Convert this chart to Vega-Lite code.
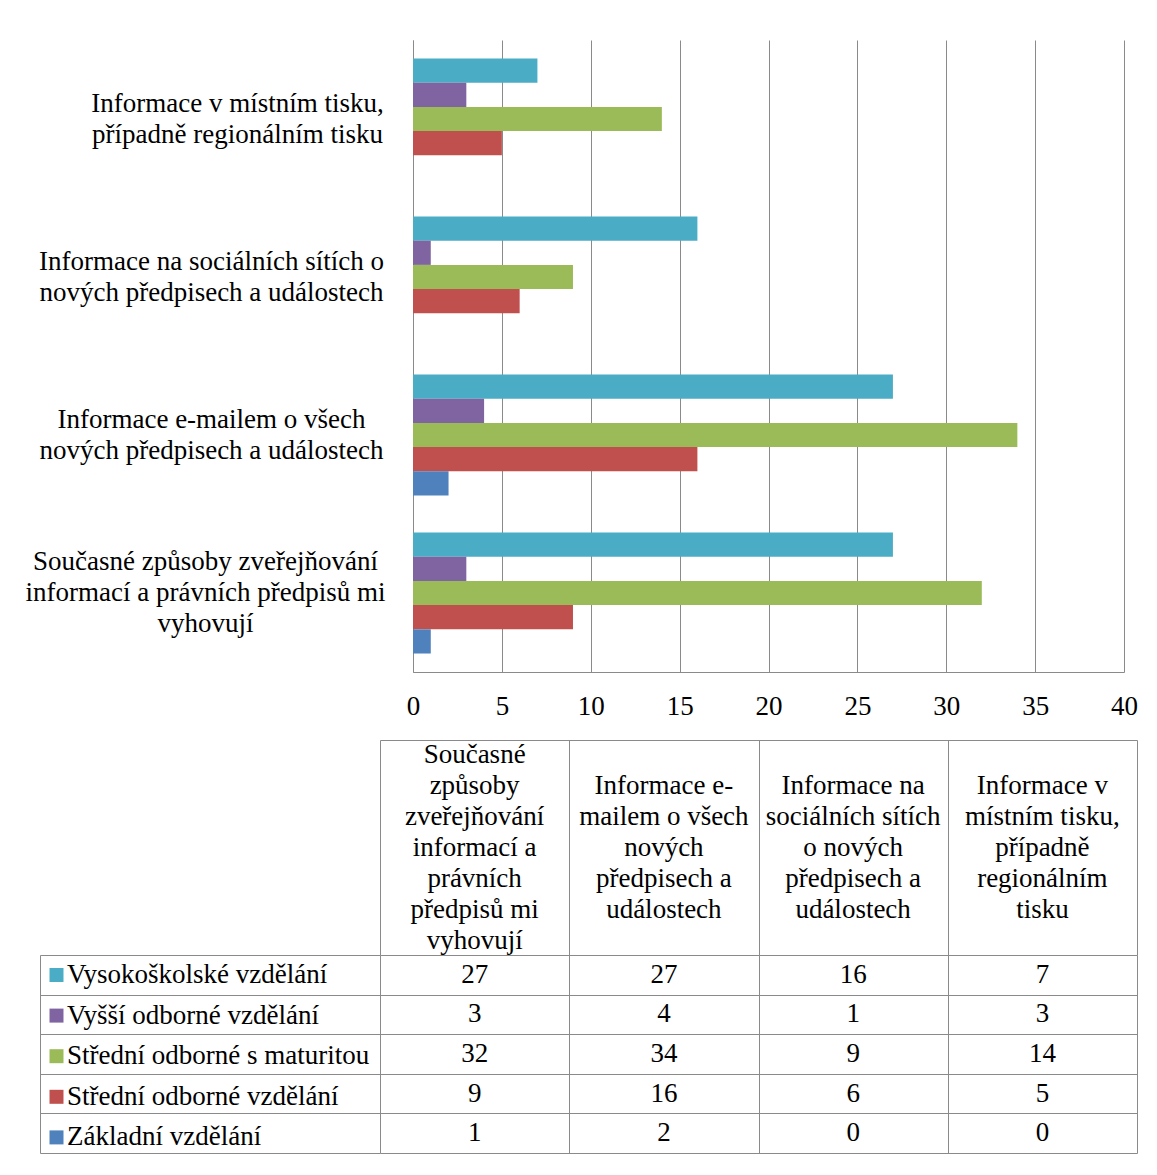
{
  "$schema": "https://vega.github.io/schema/vega-lite/v6.json",
  "padding": {"left": 13, "top": 40, "right": 0, "bottom": 8},
  "background": "white",
  "config": {
    "view": {"stroke": null},
    "font": "'Liberation Serif', serif",
    "text": {"font": "'Liberation Serif', serif"},
    "axis": {
      "labelFont": "'Liberation Serif', serif",
      "labelFontSize": 27,
      "labelColor": "black",
      "domainColor": "#8a8a8a",
      "gridColor": "#8a8a8a",
      "gridOpacity": 1,
      "domainWidth": 1,
      "gridWidth": 1,
      "title": null
    },
    "legend": {"labelFont": "'Liberation Serif', serif"}
  },
  "datasets": {
    "vals": [
      {"cat": "Současné způsoby zveřejňování\ninformací a právních předpisů mi\nvyhovují", "series": "Vysokoškolské vzdělání", "value": 27},
      {"cat": "Současné způsoby zveřejňování\ninformací a právních předpisů mi\nvyhovují", "series": "Vyšší odborné vzdělání", "value": 3},
      {"cat": "Současné způsoby zveřejňování\ninformací a právních předpisů mi\nvyhovují", "series": "Střední odborné s maturitou", "value": 32},
      {"cat": "Současné způsoby zveřejňování\ninformací a právních předpisů mi\nvyhovují", "series": "Střední odborné vzdělání", "value": 9},
      {"cat": "Současné způsoby zveřejňování\ninformací a právních předpisů mi\nvyhovují", "series": "Základní vzdělání", "value": 1},
      {"cat": "Informace e-mailem o všech\nnových předpisech a událostech", "series": "Vysokoškolské vzdělání", "value": 27},
      {"cat": "Informace e-mailem o všech\nnových předpisech a událostech", "series": "Vyšší odborné vzdělání", "value": 4},
      {"cat": "Informace e-mailem o všech\nnových předpisech a událostech", "series": "Střední odborné s maturitou", "value": 34},
      {"cat": "Informace e-mailem o všech\nnových předpisech a událostech", "series": "Střední odborné vzdělání", "value": 16},
      {"cat": "Informace e-mailem o všech\nnových předpisech a událostech", "series": "Základní vzdělání", "value": 2},
      {"cat": "Informace na sociálních sítích o\nnových předpisech a událostech", "series": "Vysokoškolské vzdělání", "value": 16},
      {"cat": "Informace na sociálních sítích o\nnových předpisech a událostech", "series": "Vyšší odborné vzdělání", "value": 1},
      {"cat": "Informace na sociálních sítích o\nnových předpisech a událostech", "series": "Střední odborné s maturitou", "value": 9},
      {"cat": "Informace na sociálních sítích o\nnových předpisech a událostech", "series": "Střední odborné vzdělání", "value": 6},
      {"cat": "Informace na sociálních sítích o\nnových předpisech a událostech", "series": "Základní vzdělání", "value": 0},
      {"cat": "Informace v místním tisku,\npřípadně regionálním tisku", "series": "Vysokoškolské vzdělání", "value": 7},
      {"cat": "Informace v místním tisku,\npřípadně regionálním tisku", "series": "Vyšší odborné vzdělání", "value": 3},
      {"cat": "Informace v místním tisku,\npřípadně regionálním tisku", "series": "Střední odborné s maturitou", "value": 14},
      {"cat": "Informace v místním tisku,\npřípadně regionálním tisku", "series": "Střední odborné vzdělání", "value": 5},
      {"cat": "Informace v místním tisku,\npřípadně regionálním tisku", "series": "Základní vzdělání", "value": 0}
    ],
    "cols": [
      {"cat": "Současné způsoby zveřejňování\ninformací a právních předpisů mi\nvyhovují", "head": "Současné\nzpůsoby\nzveřejňování\ninformací a\nprávních\npředpisů mi\nvyhovují"},
      {"cat": "Informace e-mailem o všech\nnových předpisech a událostech", "head": "\nInformace e-\nmailem o všech\nnových\npředpisech a\nudálostech\n"},
      {"cat": "Informace na sociálních sítích o\nnových předpisech a událostech", "head": "\nInformace na\nsociálních sítích\no nových\npředpisech a\nudálostech\n"},
      {"cat": "Informace v místním tisku,\npřípadně regionálním tisku", "head": "\nInformace v\nmístním tisku,\npřípadně\nregionálním\ntisku\n"}
    ],
    "none": []
  },
  "resolve": {"scale": {"color": "independent"}},
  "spacing": 18,
  "vconcat": [
    {
      "spacing": -28,
      "hconcat": [
        {
          "width": 1,
          "height": 1,
          "data": {"name": "none"},
          "mark": {"type": "point", "opacity": 0},
          "encoding": {}
        },
        {
          "width": 711,
          "height": 632,
          "data": {"name": "vals"},
          "mark": {"type": "bar"},
          "encoding": {
            "y": {
              "field": "cat",
              "type": "nominal",
              "sort": [
                "Informace v místním tisku,\npřípadně regionálním tisku",
                "Informace na sociálních sítích o\nnových předpisech a událostech",
                "Informace e-mailem o všech\nnových předpisech a událostech",
                "Současné způsoby zveřejňování\ninformací a právních předpisů mi\nvyhovují"
              ],
              "scale": {"paddingInner": 0.234, "paddingOuter": 0.117},
              "axis": {
                "ticks": false,
                "grid": false,
                "domain": true,
                "labelExpr": "split(datum.label, '\\n')",
                "labelAlign": "center",
                "labelPadding": {"condition": [
                  {"test": "indexof(datum.value, 'vyhovují') >= 0", "value": 208},
                  {"test": "indexof(datum.value, 'místním') >= 0", "value": 176}
                ], "value": 202},
                "labelLineHeight": 31,
                "labelLimit": 600,
                "labelOffset": {"condition": {"test": "indexof(datum.value, 'vyhovují') >= 0", "value": -31}, "value": -15.5},
                "minExtent": 400
              }
            },
            "x": {
              "field": "value",
              "type": "quantitative",
              "scale": {"domain": [0, 40], "nice": false},
              "axis": {
                "values": [0, 5, 10, 15, 20, 25, 30, 35, 40],
                "grid": true,
                "ticks": false,
                "domain": true,
                "labelPadding": 21,
                "labelFlush": false,
                "minExtent": 50
              }
            },
            "yOffset": {
              "field": "series",
              "type": "nominal",
              "sort": ["Vysokoškolské vzdělání", "Vyšší odborné vzdělání", "Střední odborné s maturitou", "Střední odborné vzdělání", "Základní vzdělání"],
              "scale": {"paddingInner": 0, "paddingOuter": 0}
            },
            "color": {
              "field": "series",
              "type": "nominal",
              "scale": {
                "domain": ["Vysokoškolské vzdělání", "Vyšší odborné vzdělání", "Střední odborné s maturitou", "Střední odborné vzdělání", "Základní vzdělání"],
                "range": ["#4BACC6", "#8064A2", "#9BBB59", "#C0504D", "#4F81BD"]
              },
              "legend": null
            }
          }
        }
      ]
    },
    {
      "spacing": 0,
      "resolve": {"scale": {"color": "independent"}},
      "vconcat": [
        {
          "spacing": 0,
          "hconcat": [
            {
              "width": 340,
              "height": 215,
              "data": {"name": "none"},
              "mark": {"type": "point", "opacity": 0},
              "encoding": {}
            },
            {
              "width": 757,
              "height": 215,
              "data": {"name": "cols"},
              "mark": {"type": "text", "lineBreak": "\n", "fontSize": 27, "lineHeight": 31, "color": "black", "baseline": "middle", "dy": -93},
              "encoding": {
                "x": {
                  "field": "cat",
                  "type": "nominal",
                  "sort": [
                    "Současné způsoby zveřejňování\ninformací a právních předpisů mi\nvyhovují",
                    "Informace e-mailem o všech\nnových předpisech a událostech",
                    "Informace na sociálních sítích o\nnových předpisech a událostech",
                    "Informace v místním tisku,\npřípadně regionálním tisku"
                  ],
                  "scale": {"type": "band", "paddingInner": 0, "paddingOuter": 0},
                  "axis": {"orient": "top", "labels": false, "ticks": false, "domain": true, "grid": true, "tickBand": "extent"}
                },
                "text": {"field": "head"}
              }
            }
          ]
        },
        {
          "spacing": 0,
          "resolve": {"scale": {"color": "independent"}},
          "hconcat": [
            {
              "width": 340,
              "height": 198,
              "data": {"name": "vals"},
              "mark": {"type": "rect", "opacity": 0},
              "encoding": {
                "y": {
                  "field": "series",
                  "type": "nominal",
                  "sort": ["Vysokoškolské vzdělání", "Vyšší odborné vzdělání", "Střední odborné s maturitou", "Střední odborné vzdělání", "Základní vzdělání"],
                  "scale": {"paddingInner": 0, "paddingOuter": 0},
                  "axis": {"labels": false, "ticks": false, "domain": true, "grid": true, "tickBand": "extent"}
                },
                "color": {
                  "field": "series",
                  "type": "nominal",
                  "scale": {
                    "domain": ["Vysokoškolské vzdělání", "Vyšší odborné vzdělání", "Střední odborné s maturitou", "Střední odborné vzdělání", "Základní vzdělání"],
                    "range": ["#4BACC6", "#8064A2", "#9BBB59", "#C0504D", "#4F81BD"]
                  },
                  "legend": {
                    "orient": "none",
                    "legendX": 3,
                    "legendY": 6.5,
                    "padding": 0,
                    "title": null,
                    "direction": "vertical",
                    "symbolType": "square",
                    "symbolSize": 196,
                    "symbolStrokeWidth": 0,
                    "symbolOpacity": 1,
                    "labelFontSize": 27,
                    "labelColor": "black",
                    "labelOffset": -3,
                    "labelLimit": 400,
                    "rowPadding": 12.6
                  }
                }
              }
            },
            {
              "width": 757,
              "height": 198,
              "data": {"name": "vals"},
              "mark": {"type": "text", "fontSize": 27, "color": "black"},
              "encoding": {
                "x": {
                  "field": "cat",
                  "type": "nominal",
                  "sort": [
                    "Současné způsoby zveřejňování\ninformací a právních předpisů mi\nvyhovují",
                    "Informace e-mailem o všech\nnových předpisech a událostech",
                    "Informace na sociálních sítích o\nnových předpisech a událostech",
                    "Informace v místním tisku,\npřípadně regionálním tisku"
                  ],
                  "scale": {"type": "band", "paddingInner": 0, "paddingOuter": 0},
                  "axis": {"labels": false, "ticks": false, "domain": false, "grid": true, "tickBand": "extent"}
                },
                "y": {
                  "field": "series",
                  "type": "nominal",
                  "sort": ["Vysokoškolské vzdělání", "Vyšší odborné vzdělání", "Střední odborné s maturitou", "Střední odborné vzdělání", "Základní vzdělání"],
                  "scale": {"type": "band", "paddingInner": 0, "paddingOuter": 0},
                  "axis": {"labels": false, "ticks": false, "domain": false, "grid": true, "tickBand": "extent"}
                },
                "text": {"field": "value", "type": "quantitative"}
              }
            }
          ]
        }
      ]
    }
  ]
}
